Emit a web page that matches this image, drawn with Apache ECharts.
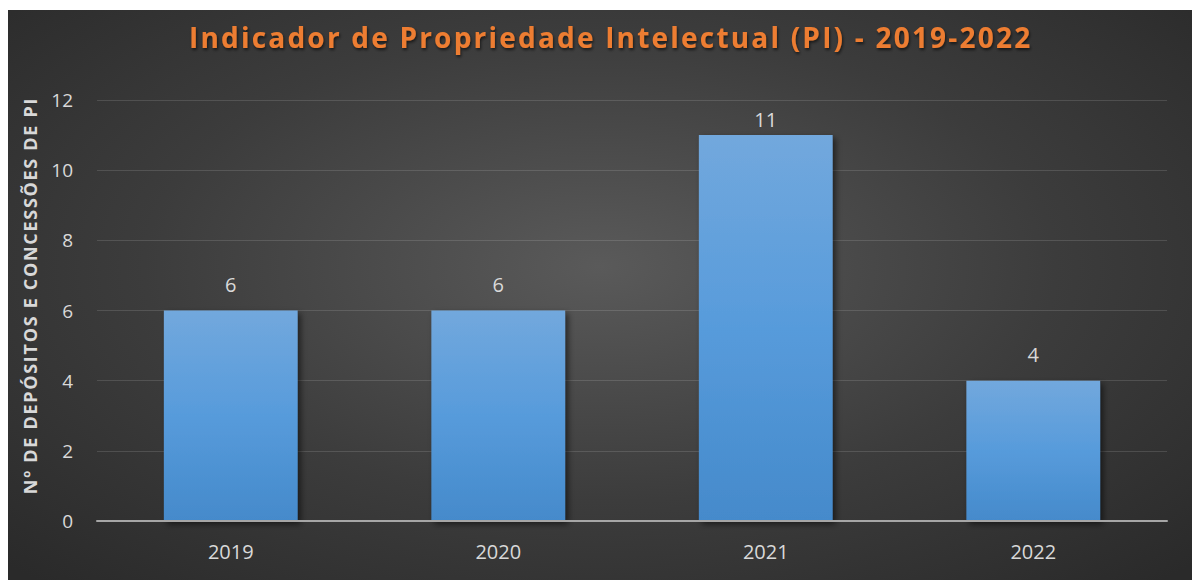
<!DOCTYPE html>
<html>
<head>
<meta charset="utf-8">
<script src="https://cdn.jsdelivr.net/npm/echarts@6/dist/echarts.min.js"></script>
<style>
  html, body { margin: 0; padding: 0; background: #fff; }
  #chart {
    position: absolute; left: 8px; top: 10px; width: 1184px; height: 570px;
    background: radial-gradient(ellipse 70% 75% at 50% 45%, #5a5a5a 0%, #3c3c3c 55%, #2a2a2a 100%);
  }
  /* title and axis name are letter-spaced in the original */
  #chart text[fill="#ED7D31" i] { letter-spacing: 2.2px; }
  #chart text[fill="#d8d8d8" i] { letter-spacing: 1.7px; }
</style>
</head>
<body>
<div id="chart"></div>
<script>
var years = ['2019', '2020', '2021', '2022'];
var values = [6, 6, 11, 4];
var titleText = 'Indicador de Propriedade Intelectual (PI) - 2019-2022';
var yName = 'Nº DE DEPÓSITOS E CONCESSÕES DE PI';

var chart = echarts.init(document.getElementById('chart'), null, { renderer: 'svg' });
var labelColor = '#d9d9d9';
var font = '"Open Sans", sans-serif';

// the tallest bar's label sits closer to the bar, as in the original
var barData = values.map(function (v, i) {
	return i === 2 ? { value: v, label: { distance: 6 } } : v;
});

chart.setOption({
	title: {
		text: titleText,
		left: 176,
		top: 8,
		textStyle: {
			color: '#ED7D31',
			fontSize: 28,
			fontWeight: 'bold',
			fontFamily: font,
			textShadowColor: 'rgba(0,0,0,0.6)',
			textShadowBlur: 3,
			textShadowOffsetX: 1,
			textShadowOffsetY: 2
		}
	},
	grid: { left: 89, right: 25, top: 90, bottom: 59 },
	xAxis: {
		type: 'category',
		data: years,
		z: 3,
		axisTick: { show: false },
		axisLine: { lineStyle: { color: '#a6a6a6', width: 2 } },
		axisLabel: { color: labelColor, fontSize: 20, fontFamily: font, margin: 20 }
	},
	yAxis: {
		type: 'value',
		min: 0,
		max: 12,
		interval: 2,
		name: yName,
		nameLocation: 'middle',
		nameGap: 58,
		nameTextStyle: {
			color: '#d8d8d8', fontSize: 18, fontWeight: 'bold', fontFamily: font,
			padding: [0, 0, 0, 30]
		},
		axisLine: { show: false },
		axisTick: { show: false },
		axisLabel: { color: labelColor, fontSize: 19, fontFamily: font, margin: 24 },
		splitLine: { lineStyle: { color: 'rgba(255,255,255,0.13)', width: 1 } }
	},
	series: [{
		type: 'bar',
		data: barData,
		barWidth: '50%',
		itemStyle: {
			color: new echarts.graphic.LinearGradient(0, 0, 0, 1, [
				{ offset: 0, color: '#72a8dd' },
				{ offset: 0.5, color: '#579bdb' },
				{ offset: 1, color: '#458acb' }
			]),
			shadowColor: 'rgba(0,0,0,0.55)',
			shadowBlur: 6,
			shadowOffsetX: 3,
			shadowOffsetY: 3
		},
		label: {
			show: true,
			position: 'top',
			distance: 16,
			color: labelColor,
			fontSize: 20,
			fontFamily: font
		}
	}]
});
</script>
</body>
</html>
